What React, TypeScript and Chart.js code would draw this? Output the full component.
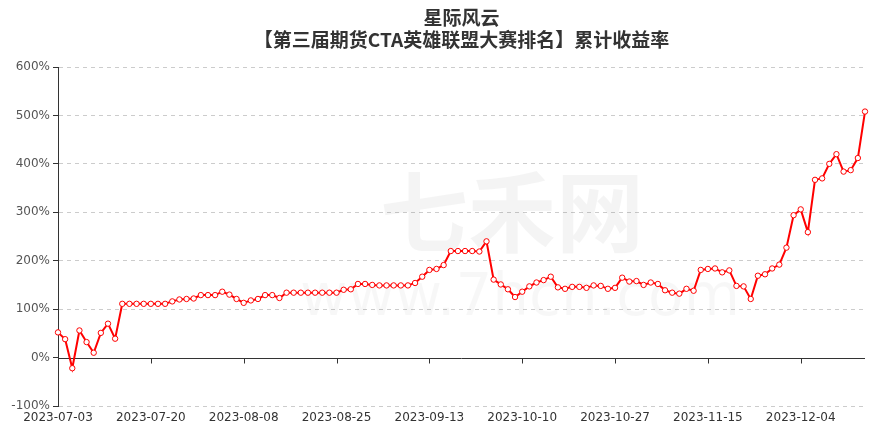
import { useEffect, useRef } from 'react';
import { Chart, registerables } from 'chart.js';

Chart.register(...registerables);

const TITLE_LINE1 = '星际风云';
const TITLE_LINE2 = '【第三届期货CTA英雄联盟大赛排名】累计收益率';
const WATERMARK_MAIN = '七禾网';
const WATERMARK_SUB = 'www.7hcn.com';

const dates: string[] = [
  '2023-07-03', '2023-07-04', '2023-07-05', '2023-07-06', '2023-07-07',
  '2023-07-10', '2023-07-11', '2023-07-12', '2023-07-13', '2023-07-14',
  '2023-07-17', '2023-07-18', '2023-07-19', '2023-07-20', '2023-07-21',
  '2023-07-24', '2023-07-25', '2023-07-26', '2023-07-27', '2023-07-28',
  '2023-07-31', '2023-08-01', '2023-08-02', '2023-08-03', '2023-08-04',
  '2023-08-07', '2023-08-08', '2023-08-09', '2023-08-10', '2023-08-11',
  '2023-08-14', '2023-08-15', '2023-08-16', '2023-08-17', '2023-08-18',
  '2023-08-21', '2023-08-22', '2023-08-23', '2023-08-24', '2023-08-25',
  '2023-08-28', '2023-08-29', '2023-08-30', '2023-08-31', '2023-09-01',
  '2023-09-04', '2023-09-05', '2023-09-06', '2023-09-07', '2023-09-08',
  '2023-09-11', '2023-09-12', '2023-09-13', '2023-09-14', '2023-09-15',
  '2023-09-18', '2023-09-19', '2023-09-20', '2023-09-21', '2023-09-22',
  '2023-09-25', '2023-09-26', '2023-09-27', '2023-09-28', '2023-10-09',
  '2023-10-10', '2023-10-11', '2023-10-12', '2023-10-13', '2023-10-16',
  '2023-10-17', '2023-10-18', '2023-10-19', '2023-10-20', '2023-10-23',
  '2023-10-24', '2023-10-25', '2023-10-26', '2023-10-27', '2023-10-30',
  '2023-10-31', '2023-11-01', '2023-11-02', '2023-11-03', '2023-11-06',
  '2023-11-07', '2023-11-08', '2023-11-09', '2023-11-10', '2023-11-13',
  '2023-11-14', '2023-11-15', '2023-11-16', '2023-11-17', '2023-11-20',
  '2023-11-21', '2023-11-22', '2023-11-23', '2023-11-24', '2023-11-27',
  '2023-11-28', '2023-11-29', '2023-11-30', '2023-12-01', '2023-12-04',
  '2023-12-05', '2023-12-06', '2023-12-07', '2023-12-08', '2023-12-11',
  '2023-12-12', '2023-12-13', '2023-12-14', '2023-12-15',
];

// cumulative return, percent
const cumulativeReturn: number[] = [
  52, 38, -22, 56, 32, 10, 51, 70, 39, 111,
  111, 111, 111, 111, 111, 111, 116, 120, 121, 122,
  129, 129, 129, 136, 130, 121, 113, 118, 121, 129,
  129, 123, 134, 134, 134, 134, 134, 134, 134, 134,
  140, 141, 152, 152, 150, 149, 149, 149, 149, 149,
  154, 167, 181, 183, 191, 220, 220, 220, 220, 219,
  240, 161, 151, 141, 125, 136, 147, 155, 160, 167,
  145, 142, 146, 146, 144, 149, 148, 142, 144, 165,
  157, 158, 150, 155, 152, 139, 134, 132, 142, 138,
  181, 183, 184, 176, 180, 148, 147, 121, 169, 172,
  184, 192, 227, 294, 306, 259, 367, 370, 400, 420,
  384, 387, 412, 508,
];

const yMin = -100;
const yMax = 600;
const yStep = 100;
const labelEvery = 13;

export default function App() {
  const canvasRef = useRef<HTMLCanvasElement | null>(null);

  useEffect(() => {
    document.body.style.margin = '0';
    const canvas = canvasRef.current;
    if (!canvas) return;

    const overlay = {
      id: 'overlay',
      beforeDatasetsDraw(chart: any) {
        const { ctx, chartArea, scales } = chart;
        ctx.save();
        // watermark
        ctx.fillStyle = 'rgba(0,0,0,0.045)';
        ctx.textAlign = 'center';
        ctx.textBaseline = 'middle';
        ctx.font = 'bold 88px "Noto Sans CJK SC"';
        ctx.fillText(WATERMARK_MAIN, 512, 212);
        ctx.font = '58px "DejaVu Sans"';
        ctx.fillStyle = 'rgba(0,0,0,0.03)';
        ctx.fillText(WATERMARK_SUB, 520, 300);
        // zero axis line
        const y0 = Math.round(scales.y.getPixelForValue(0)) + 0.5;
        ctx.strokeStyle = '#333';
        ctx.lineWidth = 1;
        ctx.beginPath();
        ctx.moveTo(chartArea.left, y0);
        ctx.lineTo(chartArea.right, y0);
        for (let i = 0; i < dates.length; i += labelEvery) {
          const x = Math.round(scales.x.getPixelForValue(i)) + 0.5;
          ctx.moveTo(x, y0);
          ctx.lineTo(x, y0 + 5);
        }
        ctx.stroke();
        ctx.restore();
      },
      afterDraw(chart: any) {
        const { ctx, chartArea } = chart;
        const cx = (chartArea.left + chartArea.right) / 2;
        ctx.save();
        ctx.fillStyle = '#333';
        ctx.textAlign = 'center';
        ctx.textBaseline = 'middle';
        ctx.font = 'bold 19px "Noto Sans CJK SC"';
        ctx.fillText(TITLE_LINE1, cx, 18);
        ctx.fillText(TITLE_LINE2, cx, 40);
        ctx.restore();
      },
    };

    const chart = new Chart(canvas, {
      type: 'line',
      data: {
        labels: dates,
        datasets: [
          {
            label: '累计收益率',
            data: cumulativeReturn,
            borderColor: '#ff0000',
            borderWidth: 2,
            pointRadius: 2.7,
            pointBorderWidth: 1,
            pointBackgroundColor: '#ffffff',
            pointBorderColor: '#ff0000',
            tension: 0,
            fill: false,
          },
        ],
      },
      options: {
        animation: false,
        responsive: false,
        maintainAspectRatio: false,
        layout: { padding: { left: 0, right: 19, top: 67, bottom: 0 } },
        plugins: {
          legend: { display: false },
          title: { display: false },
          tooltip: { enabled: false },
        },
        scales: {
          x: {
            type: 'category',
            offset: false,
            grid: { display: false, drawTicks: false },
            border: { display: false },
            ticks: {
              autoSkip: false,
              maxRotation: 0,
              minRotation: 0,
              padding: 5,
              color: '#333',
              font: { size: 12, family: 'DejaVu Sans' },
              callback: (_v: any, i: number) => (i % labelEvery === 0 ? dates[i] : ''),
            },
            afterFit: (s: any) => {
              s.height = 26;
            },
          },
          y: {
            min: yMin,
            max: yMax,
            grid: {
              color: (c: any) => (c.tick && c.tick.value === 0 ? 'rgba(0,0,0,0)' : '#cccccc'),
              tickColor: '#333',
              tickLength: 5,
              tickBorderDash: [],
            },
            border: { display: true, color: '#333', width: 1, dash: [4, 4] },
            ticks: {
              stepSize: yStep,
              padding: 3,
              color: '#555',
              font: { size: 12, family: 'DejaVu Sans' },
              callback: (v: any) => `${v}%`,
            },
            afterFit: (s: any) => {
              s.width = 58;
            },
          },
        },
      },
      plugins: [overlay],
    });

    return () => chart.destroy();
  }, []);

  return (
    <div style={{ width: 884, height: 432 }}>
      <canvas ref={canvasRef} width={884} height={432} />
    </div>
  );
}
